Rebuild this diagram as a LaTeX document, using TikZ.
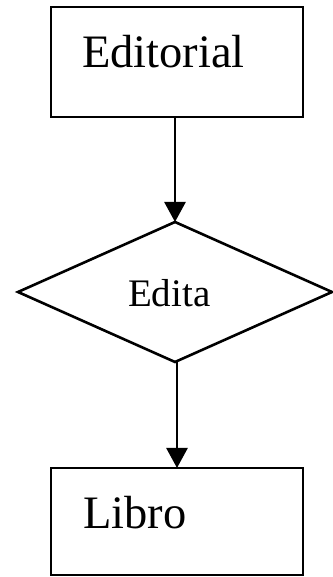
\documentclass[tikz,border=0pt]{standalone}
\usepackage{fontspec}
\setmainfont{Liberation Serif}
\usetikzlibrary{shapes.geometric,arrows.meta}
\begin{document}
\begin{tikzpicture}[x=1pt,y=1pt,
  boxnode/.style={draw,line width=2.8pt,minimum width=252pt,inner sep=0pt,outer sep=0pt},
  decnode/.style={draw,diamond,line width=2.6pt,minimum width=314pt,minimum height=140pt,inner sep=0pt,outer sep=0pt},
  lbl/.style={anchor=base west,inner sep=0pt,outer sep=0pt},
  conn/.style={line width=2.6pt,-{Triangle[width=21pt,length=20pt]}}]
\useasboundingbox (0,0) rectangle (332,577);
\node[boxnode,minimum height=110pt] (ed) at (177,515) {};
\node[decnode] (dec) at (175,285) {};
\node[boxnode,minimum height=107pt] (lib) at (177,55.5) {};
\node[lbl,font=\fontsize{46.5}{50}\selectfont] (edt) at (82,509) {Editorial};
\node[lbl,font=\fontsize{39}{42}\selectfont] (dect) at (128,270) {Edita};
\node[lbl,font=\fontsize{46.5}{50}\selectfont] (libt) at (83,48) {Libro};
\coordinate (dbot) at ([xshift=2pt]dec.south);
\draw[conn] (dec.north |- ed.south) -- (dec.north);
\draw[conn] (dbot) -- (dbot |- lib.north);
\end{tikzpicture}
\end{document}
